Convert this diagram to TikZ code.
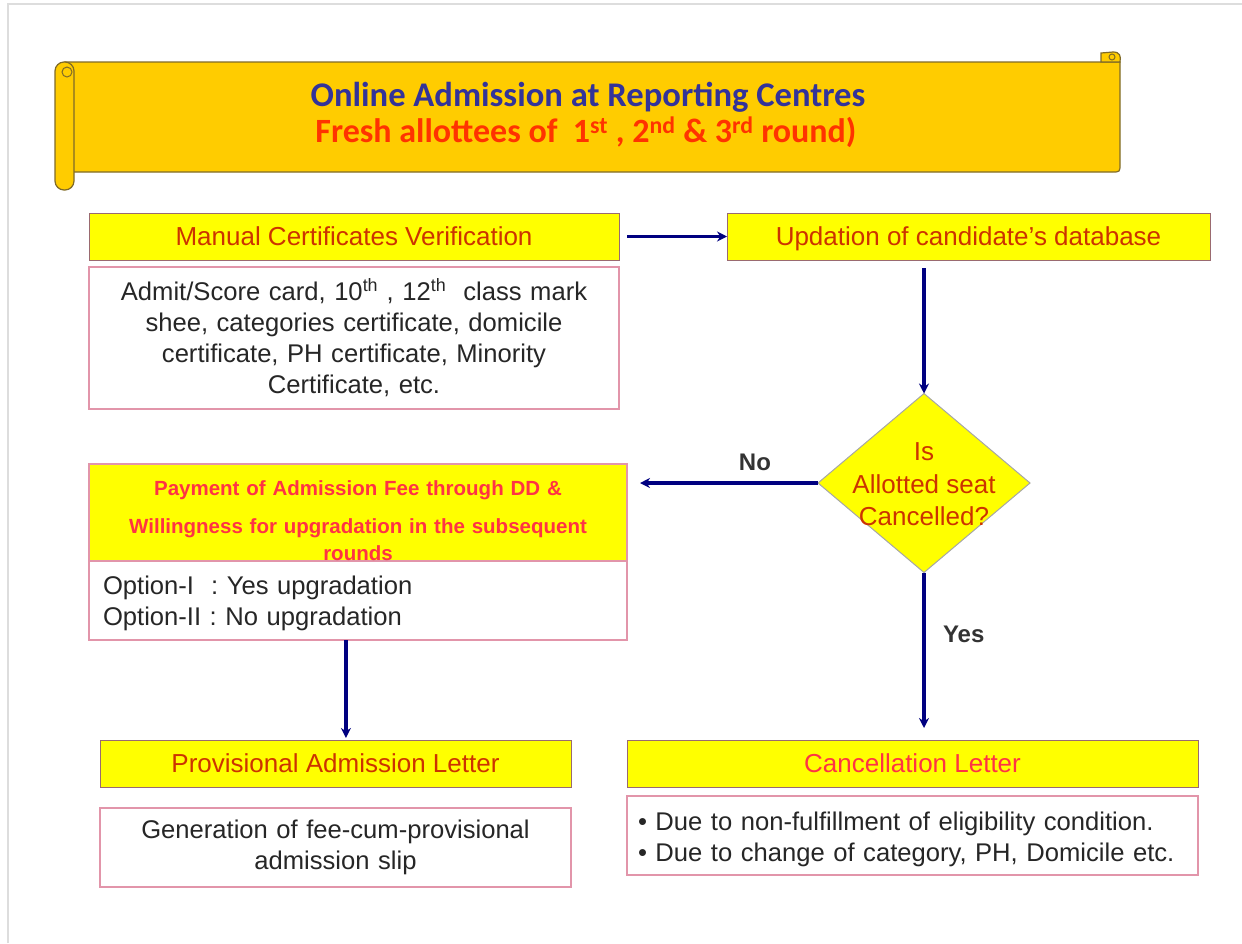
\documentclass[tikz,border=0pt]{standalone}
\usepackage{fontspec}
\setmainfont{Liberation Sans}
\newfontfamily\bannerfont{Carlito}
\usetikzlibrary{shapes.geometric,arrows.meta}

\definecolor{cffcc00}{RGB}{255,204,0}
\definecolor{c7f6a28}{RGB}{127,106,40}
\definecolor{c333399}{RGB}{51,51,153}
\definecolor{cff3300}{RGB}{255,51,0}
\definecolor{cffff00}{RGB}{255,255,0}
\definecolor{c9a6a70}{RGB}{154,106,112}
\definecolor{ce295aa}{RGB}{226,149,170}
\definecolor{cc33300}{RGB}{204,51,0}
\definecolor{cff3344}{RGB}{255,51,68}
\definecolor{c000080}{RGB}{0,0,128}
\definecolor{c333333}{RGB}{51,51,51}
\definecolor{c262626}{RGB}{38,38,38}
\definecolor{cdddddd}{RGB}{221,221,221}

\begin{document}
\begin{tikzpicture}[x=1pt,y=1pt,yscale=-1,inner sep=0pt,outer sep=0pt,
  headbox/.style={draw=c9a6a70,fill=cffff00,line width=1pt,minimum width=#1,
    minimum height=47pt,text height=18.6pt,text depth=0pt,text=cc33300,
    font=\fontsize{26}{31}\selectfont},
  textbox/.style n args={3}{draw=ce295aa,fill=white,line width=1.5pt,
    minimum width=#1,minimum height=#2,text width=#3,align=center,
    text=c262626,font=\fontsize{25.6}{31}\selectfont},
  decision/.style={diamond,draw=gray!70,fill=cffff00,line width=1pt,
    minimum width=212pt,minimum height=179pt,aspect=1.18,text=cc33300,
    font=\fontsize{26}{32.5}\selectfont},
  flow/.style={draw=c000080,line width=3.2pt,-{Stealth[length=10pt,width=10pt]}},
  answer/.style={text=c333333,font=\bfseries\fontsize{24}{29}\selectfont}]
\path[use as bounding box] (0,0) rectangle (1242,943);
\draw[cdddddd,line width=2pt] (8,943) -- (8,4) -- (1242,4);

\path[fill=cffcc00,draw=c7f6a28,line width=1.2pt] (65,62) -- (1120,62) --
  (1120,164) .. controls (1120,172) .. (1112,172) -- (65,172) -- cycle;
\path[fill=cffcc00,draw=c7f6a28,line width=1.2pt] (1101,62) -- (1101,53) --
  (1113,52) .. controls (1120,52) and (1121,56) .. (1120,62) -- cycle;
\draw[c7f6a28,line width=1pt] (1112,57) circle (3pt);
\path[fill=cffcc00,draw=c7f6a28,line width=1.2pt,rounded corners=9pt]
  (55,62) rectangle (74,190);
\draw[c7f6a28,line width=1pt] (67,72) circle (5pt);

\node[text=c333399,font=\bannerfont\bfseries\fontsize{34.6}{40}\selectfont]
  (title) at (588,97) {Online Admission at Reporting Centres};
\node[text=cff3300,font=\bannerfont\bfseries\fontsize{34}{40}\selectfont]
  (subtitle) at (586,132) {Fresh allottees of~ 1\textsuperscript{st} ,
  2\textsuperscript{nd} \& 3\textsuperscript{rd} round)};

\node[headbox=530pt] (mcv) at (354,236.5) {Manual Certificates Verification};
\node[textbox={530pt}{142pt}{510pt}] (docs) at (354,338) {Admit/Score card,
  10\textsuperscript{th} , 12\textsuperscript{th}~ class mark\\ shee, categories
  certificate, domicile\\ certificate, PH certificate, Minority\\ Certificate, etc.};
\node[headbox=483pt] (upd) at (968.5,236.5) {Updation of candidate's database};
\node[decision] (dia) at (924,483) {\smash{\raisebox{-10pt}{\begin{tabular}{@{}c@{}}Is\\
  Allotted seat\\Cancelled?\end{tabular}}}};

\node[textbox={538pt}{79pt}{510pt},align=left] (opt) at (358,600.5)
  {\rule{0pt}{24pt}Option-I~ : Yes upgradation\\Option-II : No upgradation};
\node[draw=ce295aa,fill=cffff00,line width=1.5pt,minimum width=538pt,
  minimum height=97pt,text width=530pt,align=center,text=cff3344,
  font=\bfseries\fontsize{20.5}{25}\selectfont] (pay) at (358,512.5)
  {\rule{0pt}{31pt}Payment of Admission Fee through DD \&\\[13pt]Willingness
  for upgradation in the subsequent\\[2pt]rounds};

\node[headbox=471pt] (pal) at (335.5,763.5) {Provisional Admission Letter};
\node[textbox={471pt}{79pt}{450pt}] (gen) at (335.5,847.5)
  {Generation of fee-cum-provisional\\admission slip};
\node[headbox=571pt,text=cff3344] (can) at (912.5,763.5) {Cancellation Letter};
\node[textbox={571pt}{79pt}{549pt},align=left] (due) at (912.5,835.5)
  {\rule{0pt}{26pt}\textbullet\ Due to non-fulfillment of eligibility condition.\\
  \textbullet\ Due to change of category, PH, Domicile etc.};

\draw[flow,shorten <=8pt] (mcv.east) -- (upd.west);
\draw[flow,shorten <=8pt] (upd.south -| dia.north) -- (dia.north);
\draw[flow,shorten >=13pt] (dia.west) -- (dia.west -| pay.east)
  node[answer,pos=0.33,anchor=south,inner sep=12pt] (no) {No};
\draw[flow,shorten >=12pt] (dia.south) -- (dia.south |- can.north)
  node[answer,pos=0.37,anchor=west,inner sep=19pt] (yes) {Yes};
\draw[flow,shorten >=2pt] (opt.253) -- (opt.253 |- pal.north);
\end{tikzpicture}
\end{document}
